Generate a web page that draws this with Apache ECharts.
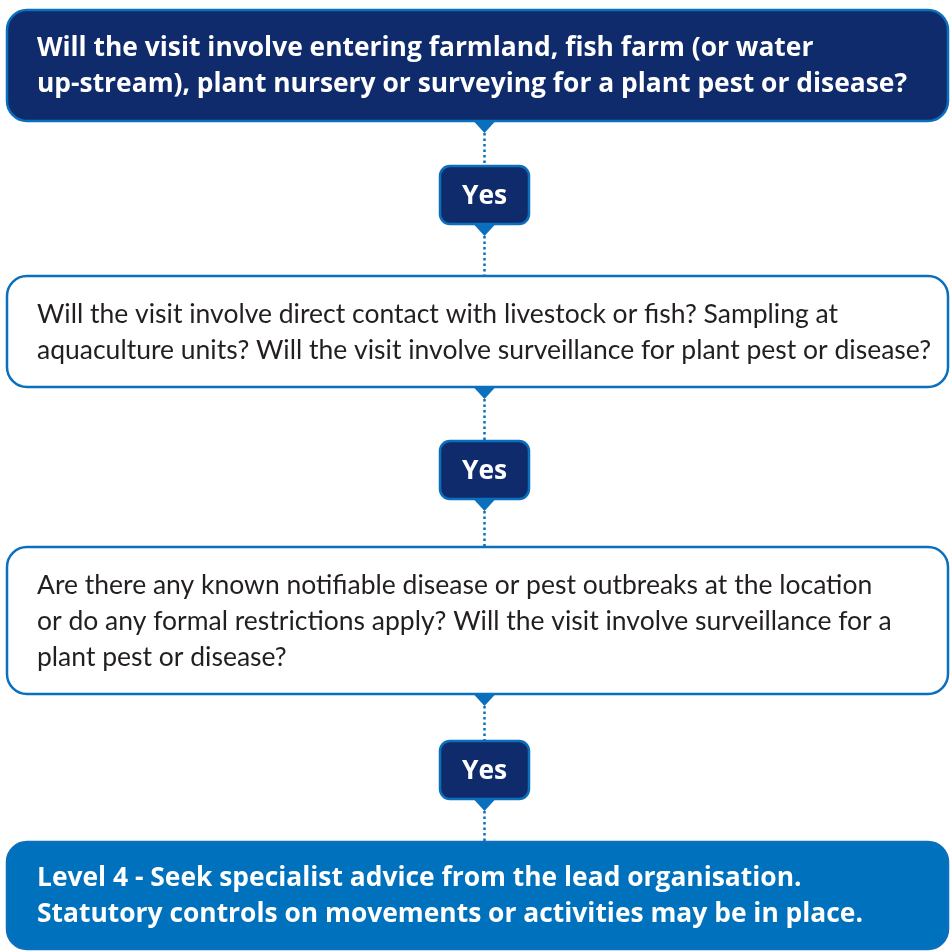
<!DOCTYPE html>
<html>
<head>
<meta charset="utf-8">
<script src="https://cdn.jsdelivr.net/npm/echarts@6/dist/echarts.min.js"></script>
<style>
  html, body { margin: 0; padding: 0; background: #fff; }
  #chart { width: 950px; height: 952px; }
</style>
</head>
<body>
<div id="chart"></div>
<script>
// question / outcome texts, one entry per line as printed
const steps = [
  ['Will the visit involve entering farmland, fish farm (or water',
   'up-stream), plant nursery or surveying for a plant pest or disease?'],
  ['Will the visit involve direct contact with livestock or fish? Sampling at',
   'aquaculture units? Will the visit involve surveillance for plant pest or disease?'],
  ['Are there any known notifiable disease or pest outbreaks at the location',
   'or do any formal restrictions apply? Will the visit involve surveillance for a',
   'plant pest or disease?'],
  ['Level 4 - Seek specialist advice from the lead organisation.',
   'Statutory controls on movements or activities may be in place.']
]
const answers = ['Yes', 'Yes', 'Yes']
const stepKind = ['question-dark', 'question', 'question', 'outcome']

// layout (pixels)
const boxTop = [10, 276, 547, 842]
const boxBottom = [121, 387, 694, 949]
const yesTop = [166, 441, 741]
const yesH = 58
const yesW = 89
const cx = 484.5
const left = 7, right = 948
const lineGap = 36

const NAVY = '#0f2b6b'
const BLUE = '#0a6fbd'
const FILL4 = '#0071bc'
const BOLD_FONT = 'bold 26.4px "Open Sans"'
const REG_FONT = '26.5px Lato'

const elements = []

// main boxes
steps.forEach((lines, i) => {
  const kind = stepKind[i]
  const fill = kind === 'question-dark' ? NAVY : kind === 'outcome' ? FILL4 : '#ffffff'
  const bold = kind !== 'question'
  elements.push({
    type: 'rect',
    shape: { x: left, y: boxTop[i], width: right - left, height: boxBottom[i] - boxTop[i], r: 20 },
    style: { fill: fill, stroke: BLUE, lineWidth: 2.5 }
  })
  const mid = (boxTop[i] + boxBottom[i]) / 2 + 1
  const first = mid - (lines.length - 1) * lineGap / 2
  lines.forEach((t, j) => {
    elements.push({
      type: 'text',
      x: 37,
      y: first + j * lineGap,
      style: {
        text: t,
        fill: bold ? '#ffffff' : '#231f20',
        font: bold ? BOLD_FONT : REG_FONT,
        textVerticalAlign: 'middle'
      }
    })
  })
})

// connectors: triangle under each box, dotted line, Yes box, triangle, dotted line
answers.forEach((label, i) => {
  const yt = yesTop[i]
  const yb = yt + yesH
  elements.push({
    type: 'polygon',
    shape: { points: [[cx - 11, boxBottom[i]], [cx + 11, boxBottom[i]], [cx, boxBottom[i] + 12]] },
    style: { fill: BLUE }
  })
  elements.push({
    type: 'line',
    shape: { x1: cx, y1: boxBottom[i] + 12, x2: cx, y2: yt },
    style: { stroke: BLUE, lineWidth: 2.5, lineDash: [2.5, 3] }
  })
  elements.push({
    type: 'rect',
    shape: { x: cx - yesW / 2, y: yt, width: yesW, height: yesH, r: 10 },
    style: { fill: NAVY, stroke: BLUE, lineWidth: 2.5 }
  })
  elements.push({
    type: 'text',
    x: cx,
    y: yt + yesH / 2 + 1,
    style: {
      text: label,
      fill: '#ffffff',
      font: BOLD_FONT,
      textAlign: 'center',
      textVerticalAlign: 'middle'
    }
  })
  elements.push({
    type: 'polygon',
    shape: { points: [[cx - 11, yb], [cx + 11, yb], [cx, yb + 12]] },
    style: { fill: BLUE }
  })
  elements.push({
    type: 'line',
    shape: { x1: cx, y1: yb + 12, x2: cx, y2: boxTop[i + 1] },
    style: { stroke: BLUE, lineWidth: 2.5, lineDash: [2.5, 3] }
  })
})

const chart = echarts.init(document.getElementById('chart'), null, { renderer: 'canvas' })
chart.setOption({
  animation: false,
  graphic: { elements: elements }
})
</script>
</body>
</html>
